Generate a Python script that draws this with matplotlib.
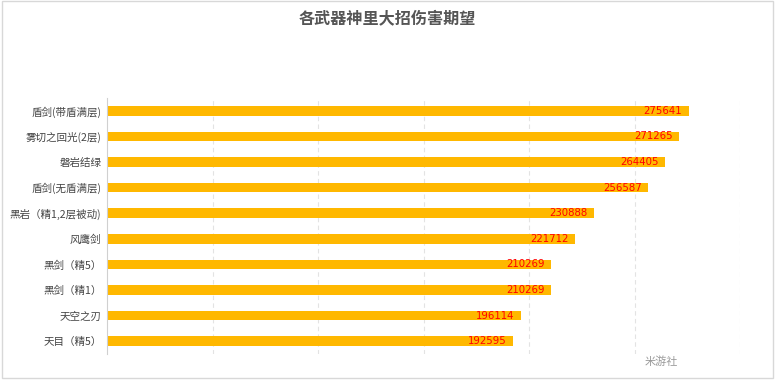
import numpy as np
import matplotlib.pyplot as plt

plt.rcParams['font.family'] = ['Noto Sans CJK SC', 'DejaVu Sans']

# 数据
weapons = ["盾剑(带盾满层)", "雾切之回光(2层)", "磐岩结绿", "盾剑(无盾满层)",
           "黑岩（精1,2层被动)", "风鹰剑", "黑剑（精5）", "黑剑（精1）",
           "天空之刃", "天目（精5）"]
damage = [275641, 271265, 264405, 256587, 230888, 221712, 210269, 210269,
          196114, 192595]

fig = plt.figure(figsize=(7.76, 3.8), dpi=100)
ax = fig.add_axes([107/776, 1-354/380, (740-107)/776, (354-98)/380])

y = np.arange(len(weapons))
ax.barh(y, damage, height=0.37, color="#FFB800", zorder=2)
for i in range(len(damage)):
    ax.text(damage[i]-3000, y[i], str(damage[i]), color="red", fontsize=7.3,
            ha="right", va="center", family="DejaVu Sans", zorder=3)

ax.set_xlim(0, 300000)
ax.set_ylim(len(weapons)-0.5, -0.5)
ax.set_xticks(np.arange(50000, 300001, 50000))
ax.set_xticklabels([])
ax.tick_params(axis="x", length=0)
ax.set_yticks(y)
ax.set_yticklabels(weapons, fontsize=7.6, color="#444444")
ax.tick_params(axis="y", length=0, pad=4)
ax.grid(axis="x", linestyle=(0, (4, 3)), color="#e3e3e3", linewidth=0.8, zorder=0)
for s in ["top", "right", "bottom"]:
    ax.spines[s].set_visible(False)
ax.spines["left"].set_color("#d0d0d0")

fig.text(387/776, 1-18/380, "各武器神里大招伤害期望", fontsize=11.6, fontweight="bold",
         color="#555555", ha="center", va="center")
fig.text(645/776, 1-362/380, "米游社", fontsize=8, color="#999999",
         ha="left", va="center")

# 外框
fig.add_artist(plt.Rectangle((0.002, 0.004), 0.994, 0.993, transform=fig.transFigure,
                             fill=False, edgecolor="#d8d8d8", linewidth=1))

fig.savefig("out.png", dpi=100)
